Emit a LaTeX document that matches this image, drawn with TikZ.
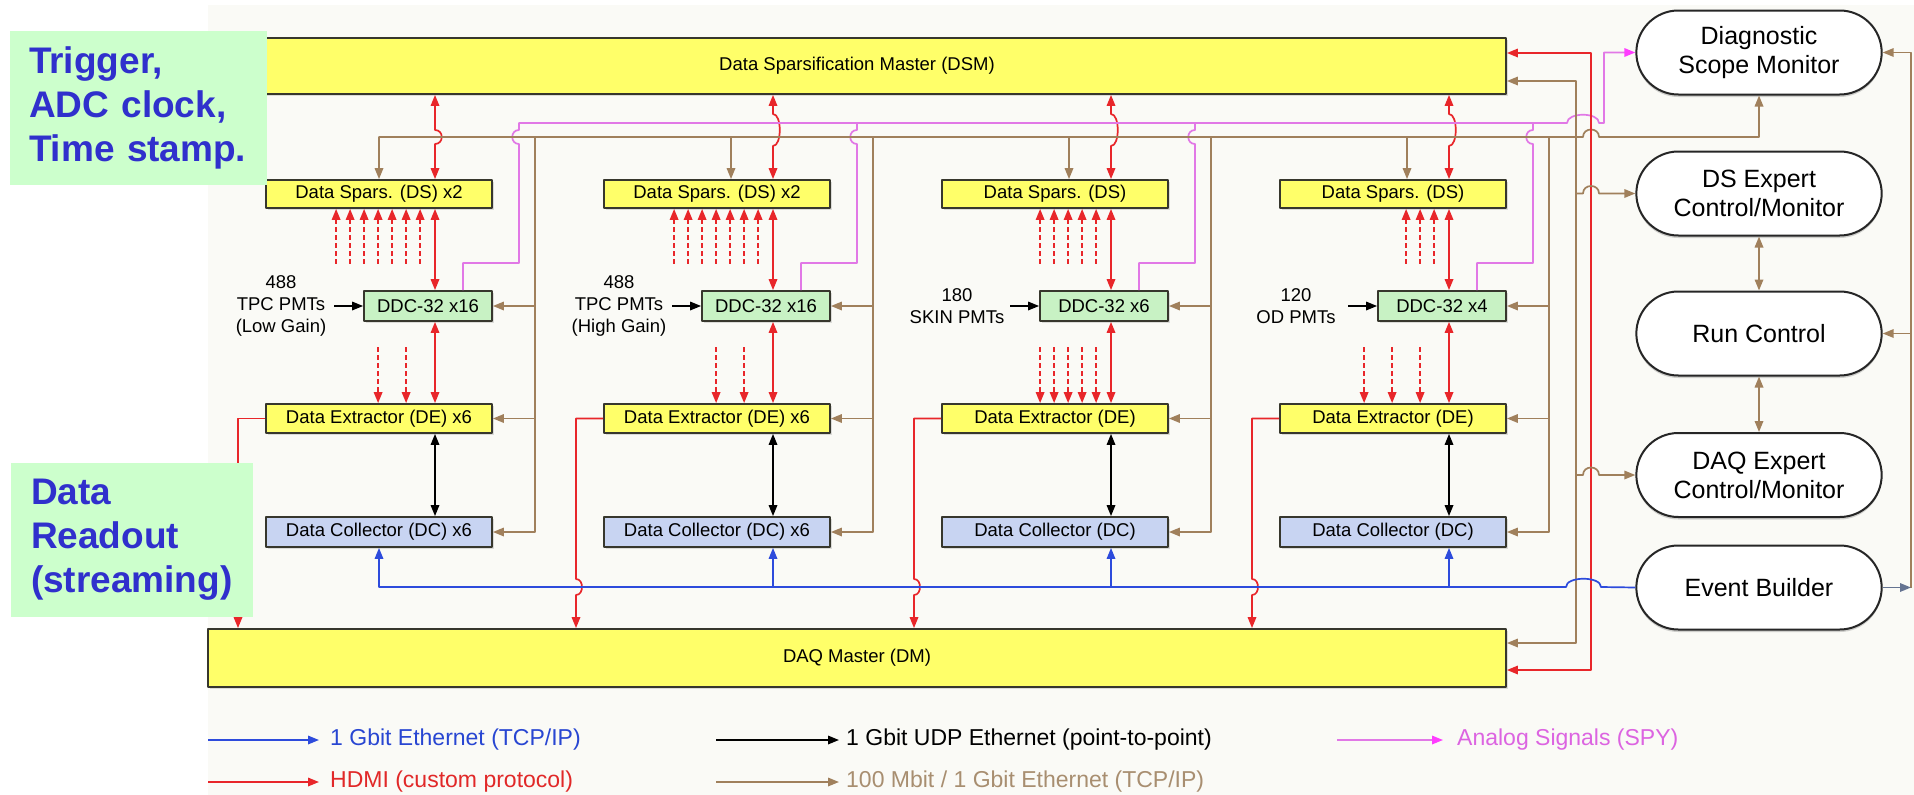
\documentclass[tikz,border=0pt]{standalone}
\usepackage{fontspec}
\setmainfont{Liberation Sans}
\usetikzlibrary{arrows.meta,shapes.misc,shadows,calc}

\definecolor{hdmired}{RGB}{232,38,42}
\definecolor{ethbrown}{RGB}{160,128,92}
\definecolor{gbeblue}{RGB}{45,75,220}
\definecolor{spypink}{RGB}{225,120,230}
\definecolor{spyhead}{RGB}{255,60,255}
\definecolor{dsyellow}{RGB}{255,255,105}
\definecolor{ddcgreen}{RGB}{200,242,196}
\definecolor{dcblue}{RGB}{200,212,242}
\definecolor{boxline}{RGB}{55,55,45}
\definecolor{canvas}{RGB}{250,250,246}
\definecolor{notegreen}{RGB}{204,255,204}
\definecolor{noteblue}{RGB}{48,48,204}
\definecolor{legblue}{RGB}{40,70,210}
\definecolor{legpink}{RGB}{220,100,225}
\definecolor{legred}{RGB}{225,40,40}
\definecolor{legbrown}{RGB}{168,142,112}
\definecolor{ebgray}{RGB}{100,115,145}

\newcommand\setfs[2]{\fontsize{#1}{#2}\selectfont}

\begin{document}
\begin{tikzpicture}[x=1pt,y=-1pt,
  >={Triangle[length=11pt,width=8.5pt]},
  line join=round,
  box/.style={draw=boxline, line width=1.8pt, inner sep=0pt, font=\setfs{18.5}{22},
    drop shadow={shadow xshift=1.5pt, shadow yshift=-1.5pt, opacity=0.25}},
  wide/.style={box, fill=dsyellow, minimum width=1298pt},
  dsbox/.style={box, fill=dsyellow, minimum width=226pt, minimum height=28pt},
  ddcbox/.style={box, fill=ddcgreen, minimum width=128pt, minimum height=30pt},
  debox/.style={box, fill=dsyellow, minimum width=226pt, minimum height=29pt},
  dcbox/.style={box, fill=dcblue, minimum width=226pt, minimum height=30pt},
  pmts/.style={align=center, font=\setfs{18.5}{22}, inner sep=0pt},
  pill/.style={rounded rectangle, draw=black!85, line width=2pt, fill=white,
    minimum width=252pt, minimum height=84pt, align=center, font=\setfs{25}{29},
    drop shadow={shadow xshift=0pt, shadow yshift=-2.5pt, opacity=0.35}},
  note/.style={fill=notegreen, text=noteblue, font=\bfseries\setfs{37}{44},
    align=left, inner ysep=0pt, minimum height=154pt},
  link/.style={line width=1.7pt},
  hdmi/.style={link, draw=hdmired},
  eth/.style={link, draw=ethbrown},
  gbe/.style={link, draw=gbeblue},
  udp/.style={link, draw=black},
  spy/.style={link, draw=spypink},
  sparse/.style={hdmi, dash pattern=on 5pt off 3pt},
  legtext/.style={anchor=west, inner sep=0pt, font=\setfs{23}{27}},
]
\useasboundingbox (0,0) rectangle (1914,795);
\fill[canvas] (208,5) rectangle (1914,795);

% ---------- masters ----------
\node[wide, minimum height=56pt] (dsm) at (857,66) {Data Sparsification Master (DSM)};
\node[wide, minimum height=58pt] (dm) at (857,658) {DAQ Master (DM)};

% ---------- four readout columns ----------
\node[dsbox] (ds1) at (379,194) {Data Spars. (DS) x2};
\node[dsbox] (ds2) at (717,194) {Data Spars. (DS) x2};
\node[dsbox] (ds3) at (1055,194) {Data Spars. (DS)};
\node[dsbox] (ds4) at (1393,194) {Data Spars. (DS)};

\node[ddcbox] (ddc1) at (428,306) {DDC-32 x16};
\node[ddcbox] (ddc2) at (766,306) {DDC-32 x16};
\node[ddcbox] (ddc3) at (1104,306) {DDC-32 x6};
\node[ddcbox] (ddc4) at (1442,306) {DDC-32 x4};

\node[debox] (de1) at (379,418.5) {Data Extractor (DE) x6};
\node[debox] (de2) at (717,418.5) {Data Extractor (DE) x6};
\node[debox] (de3) at (1055,418.5) {Data Extractor (DE)};
\node[debox] (de4) at (1393,418.5) {Data Extractor (DE)};

\node[dcbox] (dc1) at (379,532) {Data Collector (DC) x6};
\node[dcbox] (dc2) at (717,532) {Data Collector (DC) x6};
\node[dcbox] (dc3) at (1055,532) {Data Collector (DC)};
\node[dcbox] (dc4) at (1393,532) {Data Collector (DC)};

\node[pmts] (pmt1) at (281,306) {488\\TPC PMTs\\(Low Gain)};
\node[pmts] (pmt2) at (619,306) {488\\TPC PMTs\\(High Gain)};
\node[pmts] (pmt3) at (957,306) {180\\SKIN PMTs};
\node[pmts] (pmt4) at (1296,306) {120\\OD PMTs};

% ---------- control side ----------
\node[pill] (diag) at (1759,52.5) {Diagnostic\\Scope Monitor};
\node[pill] (dsx)  at (1759,193.5) {DS Expert\\Control/Monitor};
\node[pill] (run)  at (1759,333.5) {Run Control};
\node[pill] (daqx) at (1759,475) {DAQ Expert\\Control/Monitor};
\node[pill] (eb)   at (1759,587.5) {Event Builder};

% ---------- guide coordinates ----------
\foreach \i/\L in {1/266,2/604,3/942,4/1280}{
  \coordinate (xR\i) at (\L+169,0);
  \coordinate (xP\i) at (\L+197,0);
  \coordinate (xQ\i) at (\L+253,0);
  \coordinate (xV\i) at (\L+269,0);
  \coordinate (xH\i) at (\L-28,0);
}
\coordinate (xD1) at (379,0);
\coordinate (xD2) at (731,0);
\coordinate (xD3) at (1069,0);
\coordinate (xD4) at (1407,0);
\coordinate (yP) at (0,123);
\coordinate (yB) at (0,137);
\coordinate (yL) at (0,263);
\coordinate (yBl) at (0,587);
\coordinate (pT) at (1604,0);
\coordinate (bTop) at (1576,81);
\coordinate (bBot) at (1576,643);
\coordinate (rTop) at (1591,53);
\coordinate (rBot) at (1591,670);
\coordinate (rl) at (1911,0);

% ---------- per-column links ----------
\foreach \i in {1,2,3,4}{
  % DDC <-> DS, DDC <-> DE, DE <-> DC
  \draw[hdmi,<->] (xR\i |- ddc\i.north) -- (xR\i |- ds\i.south);
  \draw[hdmi,<->] (xR\i |- ddc\i.south) -- (xR\i |- de\i.north);
  \draw[udp,<->] (xR\i |- de\i.south) -- (xR\i |- dc\i.north);
  % PMT inputs
  \draw[udp,->] ($(ddc\i.west)+(-29,0)$) -- (ddc\i.west);
  % slow-control riser
  \draw[eth,->] (xV\i |- yB) -- (xV\i |- dc\i) -- (dc\i.east);
  \draw[eth,->] (xV\i |- ddc\i) -- (ddc\i.east);
  \draw[eth,->] (xV\i |- de\i) -- (de\i.east);
}
\foreach \i in {2,3,4}{
  \draw[hdmi,<->] (xR\i |- dsm.south) -- ($(xR\i)+(0,114)$)
    .. controls +(9,0) and +(9,0) .. ($(xR\i)+(0,146)$) -- (xR\i |- ds\i.north);
  \draw[eth,->] (xD\i |- yB) -- (xD\i |- ds\i.north);
  \draw[gbe,->] (xR\i |- yBl) -- (xR\i |- dc\i.south);
  \draw[hdmi,->] (de\i.west) -- (xH\i |- de\i) -- ($(xH\i)+(0,579)$)
    .. controls +(8,0) and +(8,0) .. ($(xH\i)+(0,595)$) -- (xH\i |- dm.north);
  \draw[spy] (xP\i |- ddc\i.north) -- (xP\i |- yL) -- (xQ\i |- yL) -- ($(xQ\i)+(0,144)$)
    .. controls +(-9,0) and +(-9,0) .. ($(xQ\i)+(0,130)$) -- (xQ\i |- yP);
}
\draw[hdmi,<->] (xR1 |- dsm.south) -- ($(xR1)+(0,130)$)
  .. controls +(9,0) and +(9,0) .. ($(xR1)+(0,144)$) -- (xR1 |- ds1.north);
\draw[hdmi,->] (de1.west) -- (xH1 |- de1) -- (xH1 |- dm.north);

% sparsified channels
\foreach \o in {71,85,99,113,127,141,155}{
  \draw[sparse,->] ($(ds1.south west)+(\o,55)$) -- ($(ds1.south west)+(\o,0)$);
  \draw[sparse,->] ($(ds2.south west)+(\o,55)$) -- ($(ds2.south west)+(\o,0)$);
}
\foreach \o in {99,113,127,141,155}{
  \draw[sparse,->] ($(ds3.south west)+(\o,55)$) -- ($(ds3.south west)+(\o,0)$);
  \draw[sparse,->] ($(de3.north west)+(\o,-56)$) -- ($(de3.north west)+(\o,0)$);
}
\foreach \o in {127,141,155}{
  \draw[sparse,->] ($(ds4.south west)+(\o,55)$) -- ($(ds4.south west)+(\o,0)$);
}
\foreach \o in {113,141}{
  \draw[sparse,->] ($(de1.north west)+(\o,-56)$) -- ($(de1.north west)+(\o,0)$);
  \draw[sparse,->] ($(de2.north west)+(\o,-56)$) -- ($(de2.north west)+(\o,0)$);
}
\foreach \o in {85,113,141}{
  \draw[sparse,->] ($(de4.north west)+(\o,-56)$) -- ($(de4.north west)+(\o,0)$);
}

% analog spy bus to the scope
\draw[spy,-{Triangle[length=11pt,width=8.5pt,color=spyhead]}]
  (xP1 |- ddc1.north) -- (xP1 |- yL) -- (xQ1 |- yL) -- ($(xQ1)+(0,144)$)
  .. controls +(-9,0) and +(-9,0) .. ($(xQ1)+(0,130)$) -- (xQ1 |- yP)
  -- (1567,123) .. controls +(0,-11) and +(0,-11) .. (1599,123)
  -- (pT |- yP) -- (pT |- diag) -- (diag.west);

% slow-control bus
\draw[eth,<->] (xD1 |- ds1.north) -- (xD1 |- yB) -- (1583,137)
  .. controls +(0,-10) and +(0,-10) .. (1599,137)
  -- (diag.south |- yB) -- (diag.south);
\draw[eth,<->] (dsm.east |- bTop) -- (bTop) -- (bBot) -- (dm.east |- bBot);
\draw[hdmi,<->] (dsm.east |- rTop) -- (rTop) -- (rBot) -- (dm.east |- rBot);
\draw[eth,->] (bTop |- dsx) -- (1583,193.5)
  .. controls +(0,-10) and +(0,-10) .. (1599,193.5) -- (dsx.west);
\draw[eth,->] (bTop |- daqx) -- (1583,475)
  .. controls +(0,-10) and +(0,-10) .. (1599,475) -- (daqx.west);

% data readout bus
\draw[gbe,->] (eb.west) -- (1601,587)
  .. controls +(0,-11) and +(0,-11) .. (1566,587)
  -- (xD1 |- yBl) -- (xD1 |- dc1.south);

% control side links
\draw[eth,<->] (dsx.south) -- (run.north);
\draw[eth,<->] (run.south) -- (daqx.north);
\draw[eth,->] (rl |- eb) -- (rl |- diag) -- (diag.east);
\draw[eth,->] (rl |- run) -- (run.east);
\draw[link, draw=ebgray, ->] (eb.east) -- (rl |- eb);

% ---------- legend ----------
\node[legtext, text=legblue] (lgA) at (330,740) {1 Gbit Ethernet (TCP/IP)};
\node[legtext, text=legred] (lgB) at (330,782) {HDMI (custom protocol)};
\node[legtext, text=black] (lgC) at (846,740) {1 Gbit UDP Ethernet (point-to-point)};
\node[legtext, text=legbrown] (lgD) at (846,782) {100 Mbit / 1 Gbit Ethernet (TCP/IP)};
\node[legtext, text=legpink] (lgE) at (1457,740) {Analog Signals (SPY)};
\coordinate (lsA) at (208,740);
\coordinate (lsB) at (208,782);
\coordinate (lsC) at (716,740);
\coordinate (lsD) at (716,782);
\coordinate (lsE) at (1337,740);
\draw[gbe,->] (lsA) -- ([xshift=-11pt]lgA.west |- lsA);
\draw[hdmi,->] (lsB) -- ([xshift=-11pt]lgB.west |- lsB);
\draw[udp,->] (lsC) -- ([xshift=-7pt]lgC.west |- lsC);
\draw[eth,->] (lsD) -- ([xshift=-7pt]lgD.west |- lsD);
\draw[spy,-{Triangle[length=11pt,width=8.5pt,color=spyhead]}] (lsE) -- ([xshift=-14pt]lgE.west |- lsE);

% ---------- notes ----------
\node[note, text width=219pt, inner xsep=19pt] (note1) at (138.5,108) {Trigger,\\ADC clock,\\Time stamp.};
\node[note, text width=202pt, inner xsep=20pt] (note2) at (132,540) {Data\\Readout\\(streaming)};
\end{tikzpicture}
\end{document}
